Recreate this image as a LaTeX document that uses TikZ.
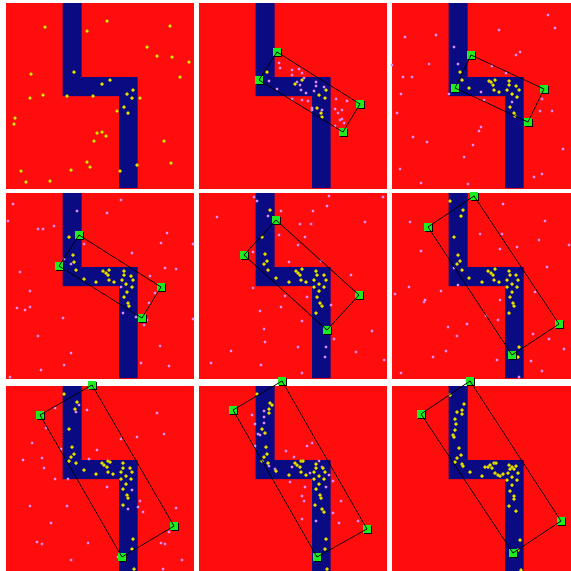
\documentclass[tikz,border=0pt]{standalone}
\usepackage{xcolor}
\usepackage{tikz}
\usetikzlibrary{shadows}
\definecolor{fieldRed}{RGB}{255,12,12}
\definecolor{wallBlue}{RGB}{10,10,130}
\definecolor{antYellow}{RGB}{240,232,0}
\definecolor{scoutPink}{RGB}{222,140,245}
\definecolor{cornerGreen}{RGB}{30,236,30}

\tikzset{
  field/.style={fill=fieldRed},
  wall/.style={fill=wallBlue},
  ant/.style={fill=antYellow, draw=antYellow!70!black, line width=0.35pt},
  scout/.style={fill=scoutPink},
  corner/.style={rectangle, fill=cornerGreen, inner sep=0pt, minimum size=7.8pt,
                 drop shadow={shadow xshift=0.9pt, shadow yshift=-0.9pt, fill=black, opacity=1}},
  hull/.style={draw=black, line width=0.65pt}
}

% one arena: red field with the blue corridor
\newcommand{\drawarena}{%
  \fill[field] (0,0) rectangle (188,186);
  \fill[wall] (56.5,0) -- (75.5,0) -- (75.5,74) -- (131.5,74) -- (131.5,185)
              -- (113,185) -- (113,93) -- (56.5,93) -- cycle;
}

\begin{document}
\begin{tikzpicture}[x=1pt, y=-1pt]
\fill[white] (0,0) rectangle (571,571);
\useasboundingbox (0,0) rectangle (571,571);
\clip (0,0) rectangle (571,571);

% the nine arenas
\foreach \ox/\oy in {6/3, 199/3, 392/3, 6/193, 199/193, 392/193, 6/386, 199/386, 392/386} {
  \begin{scope}[shift={(\ox,\oy)}]
    \drawarena
  \end{scope}
}

% panel 1
\begin{scope}[shift={(6,3)}]
  \foreach \x/\y in {39/24, 101/18, 164/23, 81/28, 141/44, 151/53, 166/54, 183/59, 25/71, 68/69,
                     174/74, 104/77, 96/81, 127/87, 121/91, 126/95, 134/95, 37/92, 24/95, 61/93,
                     87/93, 111/108, 118/104, 122/110, 9/115, 8/121, 96/129, 91/130, 100/133, 88/138,
                     158/138, 81/159, 84/164, 131/162, 165/160, 65/167, 114/168, 15/168, 44/178, 20/179}
    \filldraw[ant] (\x,\y) circle (1.75pt);
\end{scope}

% panel 2
\begin{scope}[shift={(199,3)}]
  \foreach \x/\y in {80/60, 81/65, 93/67, 93/72, 100/66, 103/70, 105/75, 70/78, 98/79, 101/82,
                     107/90, 102/87, 78/86, 93/96, 103/97, 109/98, 115/88, 117/79, 117/83, 125/84,
                     113/105, 113/107, 123/107, 137/96, 148/98, 136/106, 143/107, 139/110, 143/116,
                     141/117, 145/120, 136/123}
    \fill[scout] (\x,\y) circle (1.6pt);
  \foreach \x/\y in {68/69, 96/81, 103/77, 127/87, 120/92, 126/95, 118/105, 122/110, 123/114}
    \filldraw[ant] (\x,\y) circle (1.75pt);
  \node[corner] (p2a) at (78,49) {};
  \node[corner] (p2b) at (60,77) {};
  \node[corner] (p2c) at (161,101) {};
  \node[corner] (p2d) at (144,129) {};
  \draw[hull] (p2a.center) -- (p2c.center) -- (p2d.center) -- (p2b.center) -- cycle;
\end{scope}

% panel 3
\begin{scope}[shift={(392,3)}]
  \foreach \x/\y in {156/12, 163/25, 107/27, 13/34, 44/32, 62/44, 128/49, 124/52, 37/61, 66/61,
                     100/63, 0/62, 11/74, 20/74, 114/70, 9/91, 57/91, 89/89, 92/97, 120/99,
                     150/96, 148/108, 160/108, 5/110, 89/124, 87/128, 21/134, 35/139, 81/142,
                     72/154, 171/146, 8/166, 142/174, 150/171, 29/180, 76/181}
    \fill[scout] (\x,\y) circle (1.6pt);
  \foreach \x/\y in {68/69, 70/77, 77/85, 97/78, 99/79, 103/77, 101/82, 102/87, 107/89, 117/78,
                     117/82, 115/87, 124/83, 127/87, 120/91, 125/94, 118/104, 122/110, 123/113}
    \filldraw[ant] (\x,\y) circle (1.75pt);
  \node[corner] (p3a) at (79,52) {};
  \node[corner] (p3b) at (63,85) {};
  \node[corner] (p3c) at (152,86) {};
  \node[corner] (p3d) at (136,119) {};
  \draw[hull] (p3a.center) -- (p3c.center) -- (p3d.center) -- (p3b.center) -- cycle;
\end{scope}

% panel 4
\begin{scope}[shift={(6,193)}]
  \foreach \x/\y in {7/11, 115/7, 71/18, 101/20, 2/28, 32/36, 37/36, 48/33, 161/40, 155/50,
                     187/51, 78/51, 126/60, 65/71, 58/66, 159/75, 170/76, 14/79, 144/83, 24/98,
                     115/94, 149/100, 143/110, 11/115, 19/117, 24/114, 117/120, 130/124, 138/132,
                     57/125, 141/127, 187/126, 32/143, 154/153, 65/160, 135/170, 58/172, 163/173,
                     35/177, 4/184}
    \fill[scout] (\x,\y) circle (1.6pt);
  \foreach \x/\y in {63/44, 67/62, 68/69, 70/77, 78/86, 90/89, 97/78, 100/80, 103/77, 102/82,
                     103/87, 108/89, 118/78, 118/82, 116/87, 125/83, 127/87, 120/91, 126/94,
                     121/99, 118/104, 122/110, 123/113}
    \filldraw[ant] (\x,\y) circle (1.75pt);
  \node[corner] (p4a) at (73,42) {};
  \node[corner] (p4b) at (53,73) {};
  \node[corner] (p4c) at (155,94) {};
  \node[corner] (p4d) at (136,125) {};
  \draw[hull] (p4a.center) -- (p4c.center) -- (p4d.center) -- (p4b.center) -- cycle;
\end{scope}

% panel 5
\begin{scope}[shift={(199,193)}]
  \foreach \x/\y in {55/4, 58/8, 69/23, 82/18, 114/18, 128/13, 130/3, 184/4, 18/24, 101/31,
                     112/31, 166/29, 80/42, 106/44, 99/52, 122/68, 90/69, 54/59, 152/82, 54/95,
                     86/103, 108/104, 132/112, 82/114, 61/118, 103/128, 173/138, 65/136, 135/146,
                     66/149, 99/154, 32/158, 127/154, 157/159, 126/164, 12/170, 62/172, 185/167,
                     103/180}
    \fill[scout] (\x,\y) circle (1.6pt);
  \foreach \x/\y in {71/17, 63/44, 66/61, 68/68, 65/71, 69/77, 77/85, 90/89, 97/78, 99/80,
                     103/76, 101/82, 102/87, 107/89, 117/78, 118/82, 115/87, 125/82, 127/87,
                     120/91, 125/94, 115/94, 120/98, 118/104, 121/110, 123/113, 117/120}
    \filldraw[ant] (\x,\y) circle (1.75pt);
  \node[corner] (p5a) at (77,27) {};
  \node[corner] (p5b) at (45,62) {};
  \node[corner] (p5c) at (160,102) {};
  \node[corner] (p5d) at (128,137) {};
  \draw[hull] (p5a.center) -- (p5c.center) -- (p5d.center) -- (p5b.center) -- cycle;
\end{scope}

% panel 6
\begin{scope}[shift={(392,193)}]
  \foreach \x/\y in {111/11, 153/28, 18/29, 147/47, 88/41, 110/41, 108/56, 125/54, 177/52, 29/58,
                     155/74, 62/75, 66/92, 17/94, 3/101, 49/98, 33/107, 32/109, 143/99, 108/107,
                     94/123, 106/127, 75/131, 56/134, 65/143, 141/141, 157/146, 54/158, 41/164,
                     172/156, 139/168, 105/167, 150/178, 9/180, 127/184}
    \fill[scout] (\x,\y) circle (1.6pt);
  \foreach \x/\y in {58/8, 71/17, 69/23, 62/44, 66/62, 68/68, 65/71, 70/77, 77/85, 90/89,
                     96/78, 99/80, 103/76, 101/82, 102/87, 107/89, 117/78, 118/82, 115/87, 124/82,
                     126/87, 120/91, 125/94, 115/94, 120/99, 118/104, 121/110, 122/113, 117/120,
                     127/154, 126/164}
    \filldraw[ant] (\x,\y) circle (1.75pt);
  \node[corner] (p6a) at (82,3) {};
  \node[corner] (p6b) at (36,34) {};
  \node[corner] (p6c) at (167,131) {};
  \node[corner] (p6d) at (120,162) {};
  \draw[hull] (p6a.center) -- (p6c.center) -- (p6d.center) -- (p6b.center) -- cycle;
\end{scope}

% panel 7
\begin{scope}[shift={(6,386)}]
  \foreach \x/\y in {73/19, 70/26, 49/22, 81/24, 151/27, 40/42, 26/57, 115/53, 131/51, 158/48,
                     55/63, 91/64, 36/72, 17/74, 83/73, 38/82, 49/93, 62/93, 101/101, 126/104,
                     134/115, 132/121, 137/126, 122/123, 24/120, 61/120, 170/122, 45/137, 163/146,
                     155/157, 159/158, 31/156, 36/158, 82/157, 176/174, 65/174, 157/183, 112/171}
    \fill[scout] (\x,\y) circle (1.6pt);
  \foreach \x/\y in {58/8, 71/16, 69/23, 63/43, 66/61, 68/68, 65/71, 63/75, 70/77, 78/84,
                     90/88, 96/77, 98/79, 102/75, 104/76, 101/81, 102/86, 107/88, 117/77, 117/82,
                     115/86, 124/82, 126/86, 120/90, 125/93, 115/93, 120/98, 117/103, 121/109,
                     122/112, 117/119, 127/153, 126/163, 128/183}
    \filldraw[ant] (\x,\y) circle (1.75pt);
  \node[corner] (p7a) at (86,-1) {};
  \node[corner] (p7b) at (34,29) {};
  \node[corner] (p7c) at (168,140) {};
  \node[corner] (p7d) at (116,171) {};
  \draw[hull] (p7a.center) -- (p7c.center) -- (p7d.center) -- (p7b.center) -- cycle;
\end{scope}

% panel 8
\begin{scope}[shift={(199,386)}]
  \foreach \x/\y in {65/25, 65/31, 59/48, 61/49, 53/29, 65/37, 56/38, 56/60, 69/77, 70/80,
                     76/83, 87/65, 95/71, 93/81, 108/60, 113/57, 120/75, 123/81, 111/87, 130/89,
                     134/95, 91/96, 106/101, 103/110, 105/115, 127/101, 142/115, 134/127, 140/137,
                     159/135, 103/133, 117/135}
    \fill[scout] (\x,\y) circle (1.6pt);
  \foreach \x/\y in {58/8, 71/17, 73/19, 70/23, 70/27, 63/43, 66/47, 67/61, 68/68, 65/71,
                     63/75, 69/77, 77/85, 90/89, 96/77, 98/79, 102/75, 104/75, 101/81, 102/86,
                     107/89, 117/78, 117/82, 115/86, 124/82, 126/86, 120/90, 125/93, 115/93,
                     120/98, 117/103, 121/109, 122/112, 116/119, 123/123, 125/126, 127/153,
                     126/163, 128/183}
    \filldraw[ant] (\x,\y) circle (1.75pt);
  \node[corner] (p8a) at (83,-5) {};
  \node[corner] (p8b) at (34,24) {};
  \node[corner] (p8c) at (168,143) {};
  \node[corner] (p8d) at (118,171) {};
  \draw[hull] (p8a.center) -- (p8c.center) -- (p8d.center) -- (p8b.center) -- cycle;
\end{scope}

% panel 9
\begin{scope}[shift={(392,386)}]
  \foreach \x/\y in {58/9, 72/18, 70/24, 65/26, 70/28, 63/33, 64/38, 63/44, 61/49, 62/51,
                     67/62, 69/69, 65/72, 63/76, 70/78, 71/80, 78/86, 90/90, 93/81, 96/81,
                     98/79, 102/77, 104/77, 100/82, 103/87, 108/90, 111/88, 117/79, 118/83,
                     116/87, 120/81, 122/83, 124/80, 126/87, 120/91, 125/94, 115/94, 120/99,
                     118/105, 122/110, 122/113, 117/120, 124/125, 128/154, 126/164, 129/184, 106/89}
    \filldraw[ant] (\x,\y) circle (1.75pt);
  \node[corner] (p9a) at (78,-5) {};
  \node[corner] (p9b) at (29,28) {};
  \node[corner] (p9c) at (169,135) {};
  \node[corner] (p9d) at (121,167) {};
  \draw[hull] (p9a.center) -- (p9c.center) -- (p9d.center) -- (p9b.center) -- cycle;
\end{scope}
\end{tikzpicture}
\end{document}
